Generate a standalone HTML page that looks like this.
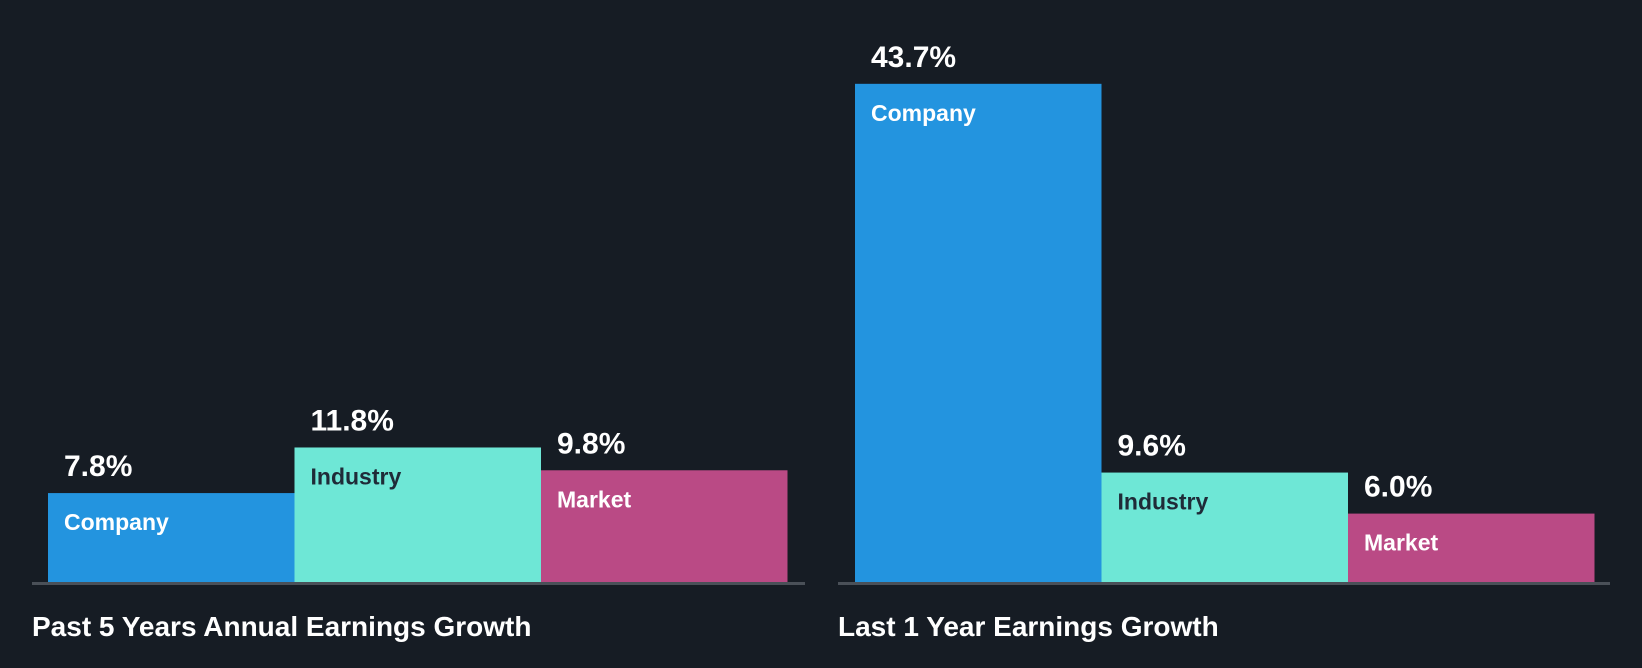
<!DOCTYPE html>
<html><head><meta charset="utf-8"><style>
html,body{margin:0;padding:0;background:#161c24;}
svg{display:block;font-family:"Liberation Sans",sans-serif;font-weight:bold;}
</style></head><body>
<svg id="c" width="1642" height="668"></svg>
<script>
const categories=["Company","Industry","Market"];
const past5Values=[7.8,11.8,9.8];
const last1Values=[43.7,9.6,6.0];
const panelTitles=["Past 5 Years Annual Earnings Growth","Last 1 Year Earnings Growth"];
const colors=["#2394df","#6ee7d6","#ba4a85"];
const textColors=["#ffffff","#1f2b38","#ffffff"];
const svg=document.getElementById('c');
const NS="http://www.w3.org/2000/svg";
const baseY=582, pxPer=11.4, barW=246.5;
function y(v){return baseY-v*pxPer;}
function mk(t,a){const e=document.createElementNS(NS,t);for(const k in a)e.setAttribute(k,a[k]);svg.appendChild(e);return e;}
const panels=[{x0:48,ax0:32,ax1:805,tx:32,vals:past5Values},{x0:855,ax0:838,ax1:1610,tx:838,vals:last1Values}];
panels.forEach((p,pi)=>{
  p.vals.forEach((v,i)=>{
    const x=p.x0+i*barW;
    const r=mk('rect',{x:x,y:y(v),width:barW,height:baseY-y(v),fill:colors[i]});
    
    
    const vt=mk('text',{x:x+16,y:y(v)-17,fill:'#fff','font-size':30});
    vt.textContent=v.toFixed(1)+'%';
    
    
    const ct=mk('text',{x:x+16,y:y(v)+37,fill:textColors[i],'font-size':23});
    ct.textContent=categories[i];
    
    
  });
  const ax=mk('rect',{x:p.ax0,y:baseY,width:p.ax1-p.ax0,height:3,fill:'#4a5058'});
  
  
  const t=mk('text',{x:p.tx,y:636,fill:'#fff','font-size':28});
  t.textContent=panelTitles[pi];
  
  
});
</script>
</body></html>
